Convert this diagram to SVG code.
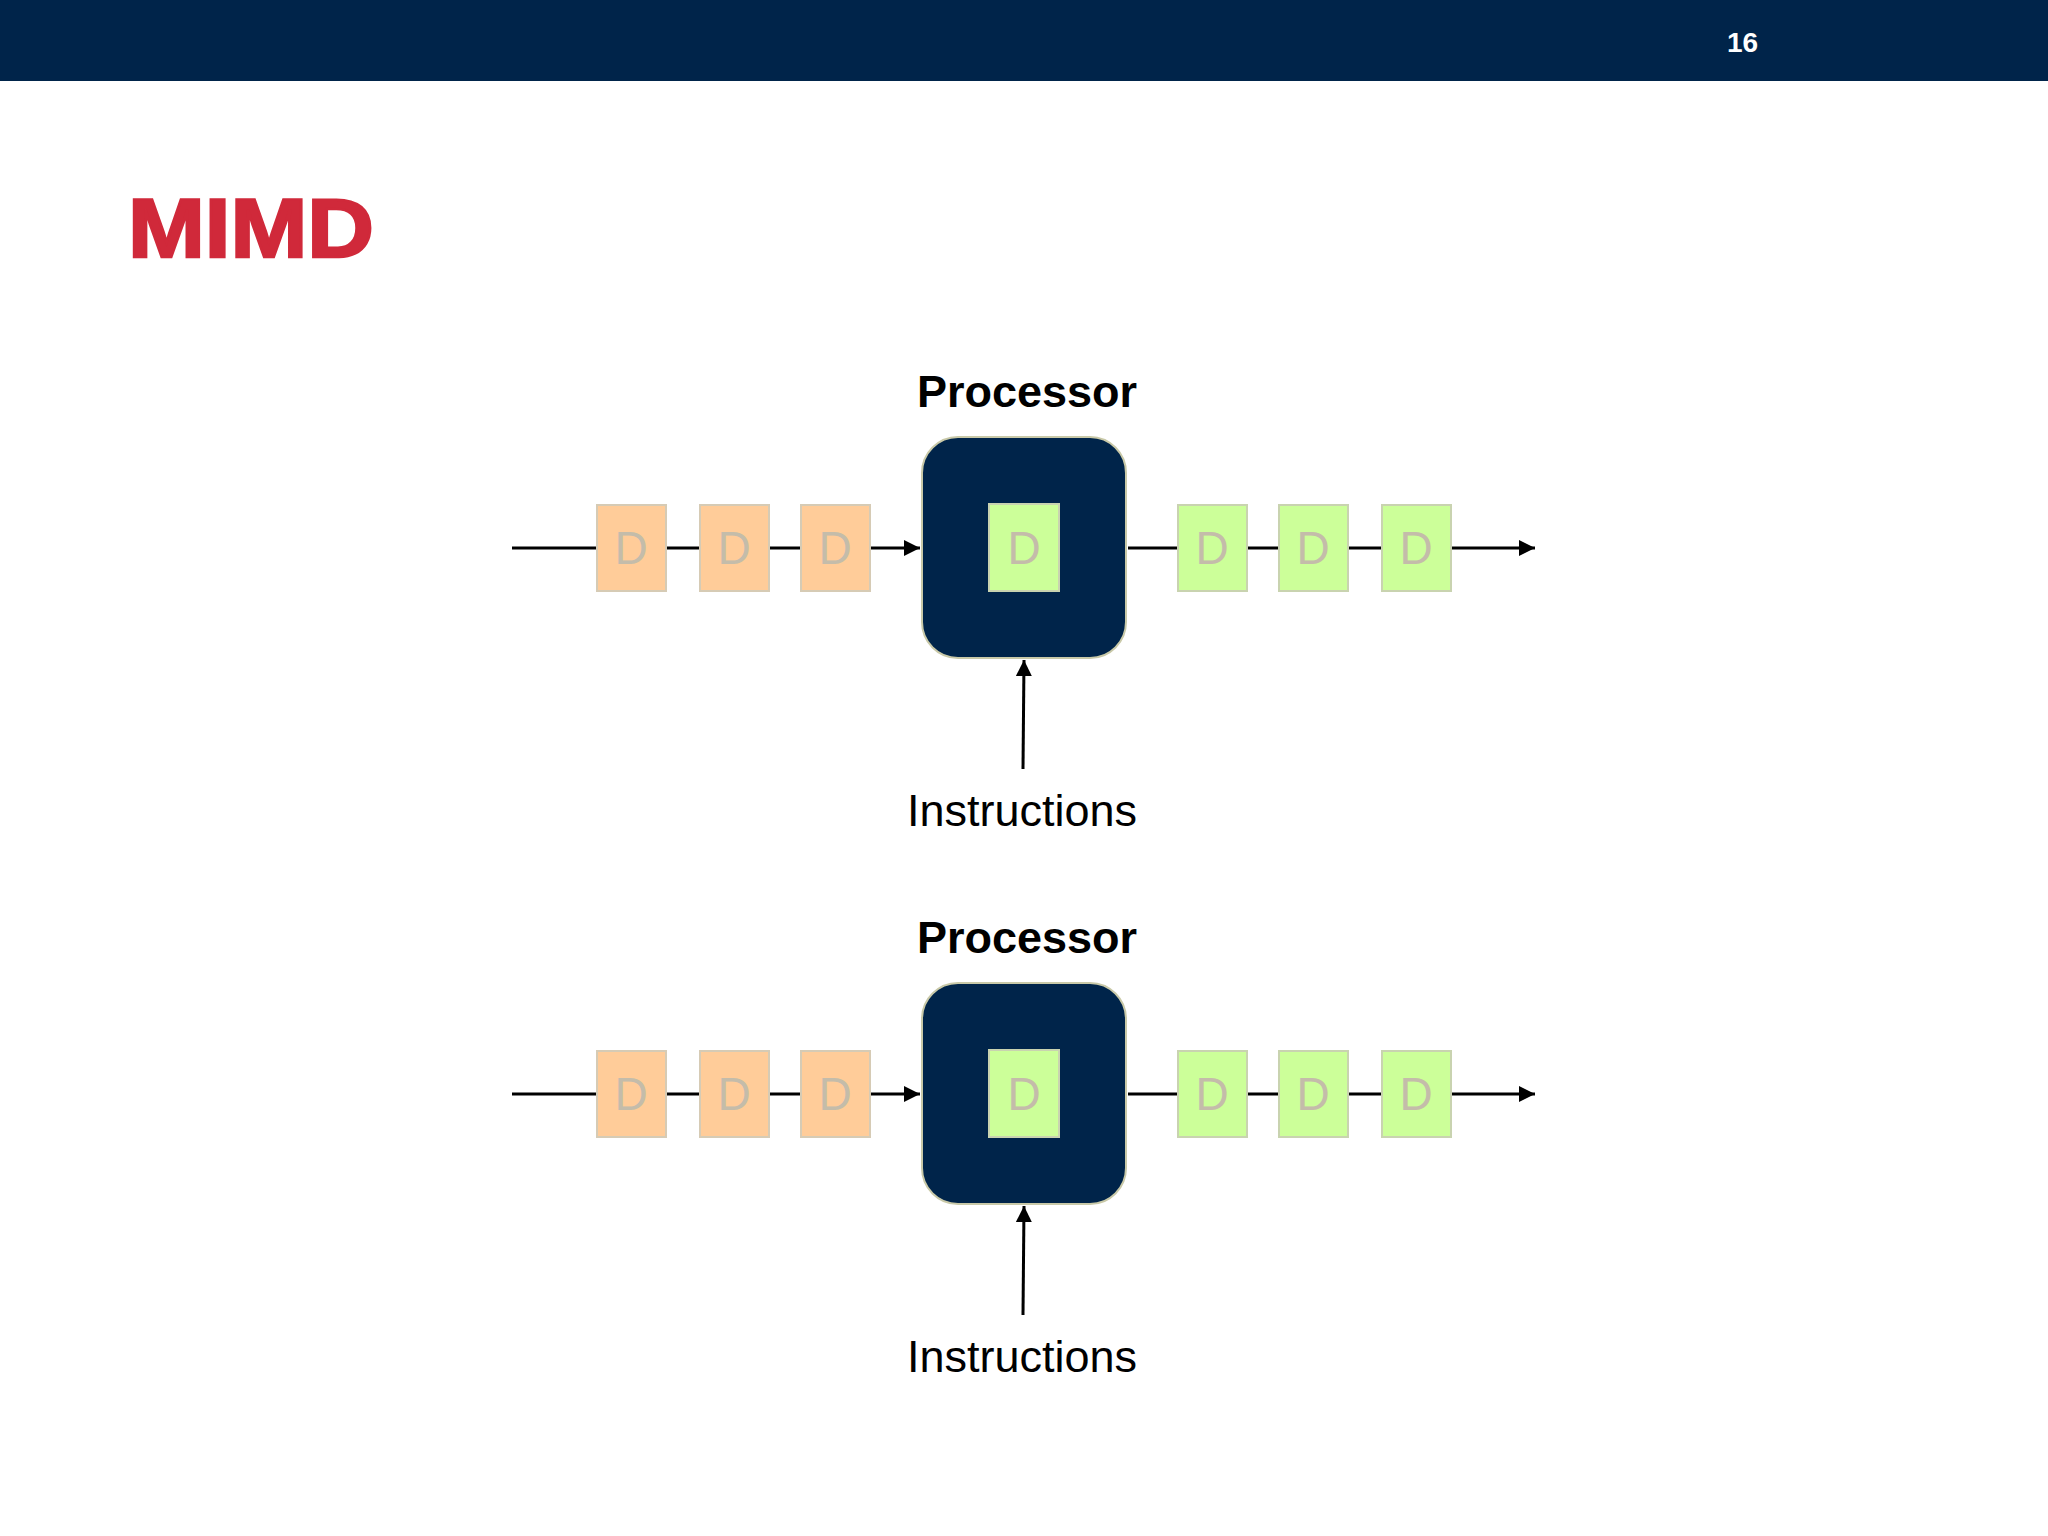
<svg xmlns="http://www.w3.org/2000/svg" width="2048" height="1536" viewBox="0 0 2048 1536">
<style>
.bar{fill:#00244a}
.title{font-family:"Liberation Sans",Arial,sans-serif;font-weight:bold;fill:#d0293a;stroke:#d0293a;stroke-width:2.5}
.pg{font-family:"Liberation Sans",Arial,sans-serif;font-weight:bold;fill:#ffffff;font-size:28px}
.plabel{font-family:"Liberation Sans",Arial,sans-serif;font-weight:bold;fill:#000;font-size:45px;text-anchor:middle}
.ilabel{font-family:"Liberation Sans",Arial,sans-serif;fill:#000;font-size:45px;text-anchor:middle}
.proc{fill:#00244a;stroke:#c9c9a8;stroke-width:2}
.in{fill:#ffcc99;stroke:#d6cbb5;stroke-width:2}
.out{fill:#ccff99;stroke:#c9d3b0;stroke-width:2}
.d{font-family:"Liberation Sans",Arial,sans-serif;font-size:46px;fill:#c4bcaa;text-anchor:middle}
.conn{stroke:#000;stroke-width:3;fill:none}
</style>
<defs>
<marker id="arr" viewBox="0 0 10 10" refX="10" refY="5" markerWidth="16" markerHeight="16" markerUnits="userSpaceOnUse" orient="auto">
<path d="M0,0 L10,5 L0,10 z" fill="#000"/>
</marker>
</defs>
<rect width="2048" height="1536" fill="#ffffff"/>
<rect class="bar" x="0" y="0" width="2048" height="81"/>
<text class="pg" x="1727" y="52">16</text>
<text class="title" x="128" y="257" font-size="84" textLength="246" lengthAdjust="spacingAndGlyphs">MIMD</text>

<g id="connectors">
<line class="conn" x1="512" y1="548" x2="920" y2="548" marker-end="url(#arr)"/>
<line class="conn" x1="1128" y1="548" x2="1535" y2="548" marker-end="url(#arr)"/>
<line class="conn" x1="1023" y1="769" x2="1024" y2="660" marker-end="url(#arr)"/>
<line class="conn" x1="512" y1="1094" x2="920" y2="1094" marker-end="url(#arr)"/>
<line class="conn" x1="1128" y1="1094" x2="1535" y2="1094" marker-end="url(#arr)"/>
<line class="conn" x1="1023" y1="1315" x2="1024" y2="1206" marker-end="url(#arr)"/>
</g>

<g id="processor1">
<text class="plabel" x="1027" y="407">Processor</text>
<rect class="proc" x="922" y="437" width="204" height="221" rx="36" ry="36"/>
<rect class="out" x="989" y="504" width="70" height="87"/>
<text class="d" x="1024" y="564">D</text>
</g>
<g id="in1-1"><rect class="in" x="597" y="505" width="69" height="86"/><text class="d" x="631" y="564">D</text></g>
<g id="in1-2"><rect class="in" x="700" y="505" width="69" height="86"/><text class="d" x="734" y="564">D</text></g>
<g id="in1-3"><rect class="in" x="801" y="505" width="69" height="86"/><text class="d" x="835" y="564">D</text></g>
<g id="out1-1"><rect class="out" x="1178" y="505" width="69" height="86"/><text class="d" x="1212" y="564">D</text></g>
<g id="out1-2"><rect class="out" x="1279" y="505" width="69" height="86"/><text class="d" x="1313" y="564">D</text></g>
<g id="out1-3"><rect class="out" x="1382" y="505" width="69" height="86"/><text class="d" x="1416" y="564">D</text></g>
<g id="instr1"><text class="ilabel" x="1022" y="826">Instructions</text></g>

<g id="processor2">
<text class="plabel" x="1027" y="953">Processor</text>
<rect class="proc" x="922" y="983" width="204" height="221" rx="36" ry="36"/>
<rect class="out" x="989" y="1050" width="70" height="87"/>
<text class="d" x="1024" y="1110">D</text>
</g>
<g id="in2-1"><rect class="in" x="597" y="1051" width="69" height="86"/><text class="d" x="631" y="1110">D</text></g>
<g id="in2-2"><rect class="in" x="700" y="1051" width="69" height="86"/><text class="d" x="734" y="1110">D</text></g>
<g id="in2-3"><rect class="in" x="801" y="1051" width="69" height="86"/><text class="d" x="835" y="1110">D</text></g>
<g id="out2-1"><rect class="out" x="1178" y="1051" width="69" height="86"/><text class="d" x="1212" y="1110">D</text></g>
<g id="out2-2"><rect class="out" x="1279" y="1051" width="69" height="86"/><text class="d" x="1313" y="1110">D</text></g>
<g id="out2-3"><rect class="out" x="1382" y="1051" width="69" height="86"/><text class="d" x="1416" y="1110">D</text></g>
<g id="instr2"><text class="ilabel" x="1022" y="1372">Instructions</text></g>
</svg>
